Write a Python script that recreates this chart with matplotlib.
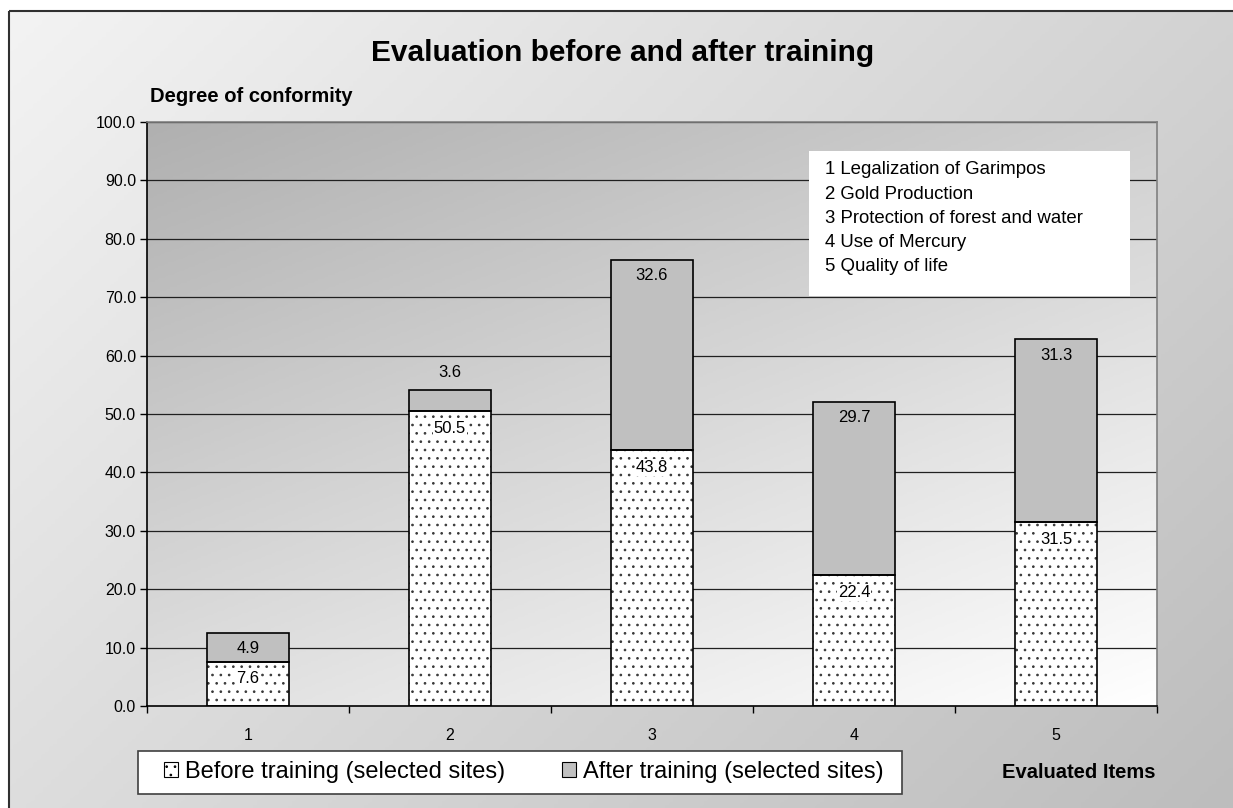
import numpy as np
import matplotlib.pyplot as plt
from matplotlib.patches import Rectangle
from matplotlib.colors import LinearSegmentedColormap

plt.rcParams['font.family'] = ['Liberation Sans', 'DejaVu Sans']
plt.rcParams['hatch.linewidth'] = 0.7

# data
items = ['1', '2', '3', '4', '5']
before = [7.6, 50.5, 43.8, 22.4, 31.5]
after = [4.9, 3.6, 32.6, 29.7, 31.3]
item_names = ['1 Legalization of Garimpos', '2 Gold Production',
              '3 Protection of forest and water', '4 Use of Mercury',
              '5 Quality of life']
yticks = np.arange(0, 101, 10)

W, H = 1233, 808
fig = plt.figure(figsize=(W / 100, H / 100), dpi=100)

# outer background with diagonal gradient
bg = fig.add_axes([0, 0, 1, 1], zorder=-10)
bg.set_xlim(0, W)
bg.set_ylim(H, 0)
bg.axis('off')
gx, gy = np.meshgrid(np.linspace(0, 1, 300), np.linspace(0, 1, 300))
cm_out = LinearSegmentedColormap.from_list('o', ['#f3f3f3', '#bdbdbd'])
bg.imshow(gx * 0.6 + gy * 0.4, cmap=cm_out, extent=(9, W, H, 11), aspect='auto', vmin=0, vmax=1)
bg.add_patch(Rectangle((9, 11), W, H, fill=False, ec='#303030', lw=1.5))
# legend frame
bg.add_patch(Rectangle((138, 751), 902 - 138, 794 - 751, fc='white', ec='#404040', lw=1.2))

# plot area
ax = fig.add_axes([147 / W, 1 - 706 / H, (1157 - 147) / W, (706 - 122) / H])
ax.patch.set_alpha(0)
x = np.arange(len(items))
ax.set_xlim(-0.5, len(items) - 0.5)
ax.set_ylim(0, 100)
cm_in = LinearSegmentedColormap.from_list('i', ['#b0b0b0', '#ffffff'])
ax.imshow(gx * 0.4 + gy * 0.6, cmap=cm_in, extent=(-0.5, len(items) - 0.5, 0, 100),
          aspect='auto', vmin=0, vmax=1, zorder=0)

for v in yticks[1:]:
    ax.axhline(v, color='#202020', lw=0.9, zorder=1)

# dotted fill first, outline on top
b1 = ax.bar(x, before, 0.41, color='white', edgecolor='#383838', hatch='..',
            lw=0, zorder=2, label='Before training (selected sites)')
ax.bar(x, before, 0.41, fill=False, edgecolor='black', lw=1.2, zorder=2.1)
b2 = ax.bar(x, after, 0.41, bottom=before, color='#c0c0c0', edgecolor='black',
            lw=1.2, zorder=2, label='After training (selected sites)')

for i in range(len(items)):
    ax.annotate(f'{before[i]:.1f}', (x[i], before[i]), xytext=(0, -12.5),
                textcoords='offset points', ha='center', va='center', fontsize=12,
                bbox=dict(boxstyle='square,pad=0.05', fc='white', ec='none'), zorder=3)
    top = before[i] + after[i]
    off = -11.5 if after[i] > 4 else 12.5
    ax.annotate(f'{after[i]:.1f}', (x[i], top), xytext=(0, off),
                textcoords='offset points', ha='center', va='center', fontsize=12, zorder=3)

ax.set_yticks(yticks)
ax.set_yticklabels([f'{v:.1f}' for v in yticks], fontsize=11.5)
ax.set_xticks(np.arange(-0.5, len(items), 1))
ax.set_xticklabels([])
ax.set_xticks(x, minor=True)
ax.set_xticklabels(items, minor=True, fontsize=11.5)
ax.tick_params(axis='x', which='minor', length=0, pad=16)
ax.tick_params(axis='x', which='major', length=5, width=1, direction='out')
ax.tick_params(axis='y', length=5, width=1, direction='out', pad=3)
for s in ['left', 'bottom']:
    ax.spines[s].set_color('black')
    ax.spines[s].set_linewidth(1.2)
for s in ['top', 'right']:
    ax.spines[s].set_color('#808080')
    ax.spines[s].set_linewidth(1.2)

# item legend box
ax.add_patch(Rectangle((809 / W, 1 - 296 / H), (1130 - 809) / W, (296 - 151) / H,
                       transform=fig.transFigure, fc='white', ec='none', zorder=4))
for k, name in enumerate(item_names):
    fig.text(825 / W, 1 - (170 + k * 24.2) / H, name, fontsize=13.4, va='center', zorder=5)

fig.text(623 / W, 1 - 53 / H, 'Evaluation before and after training',
         fontsize=21.5, fontweight='bold', ha='center', va='center')
fig.text(150 / W, 1 - 97 / H, 'Degree of conformity', fontsize=14.5,
         fontweight='bold', ha='left', va='center')
fig.text(1156 / W, 1 - 772 / H, 'Evaluated Items', fontsize=14.5,
         fontweight='bold', ha='right', va='center')

leg = fig.legend(handles=[b1, b2], loc='center left', ncol=2,
                 bbox_to_anchor=(164 / W, 1 - 772 / H), fontsize=17,
                 frameon=False, handlelength=0.6, handleheight=0.6,
                 handletextpad=0.3, columnspacing=2.4, borderpad=0,
                 borderaxespad=0)
for h in leg.legend_handles:
    h.set_edgecolor('black')
    h.set_linewidth(0.8)

fig.savefig('out.png', dpi=100)
